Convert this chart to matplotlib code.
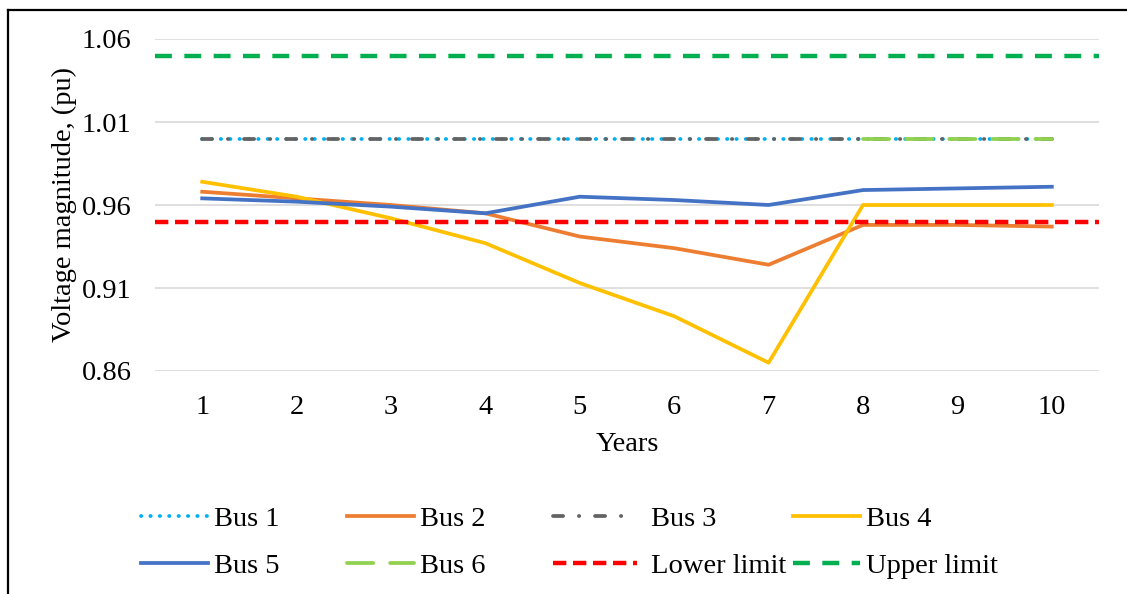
import numpy as np
import matplotlib.pyplot as plt
from matplotlib.lines import Line2D

plt.rcParams['font.family'] = ['Liberation Serif', 'DejaVu Serif']

# data
years = [1, 2, 3, 4, 5, 6, 7, 8, 9, 10]
bus1 = [1.0, 1.0, 1.0, 1.0, 1.0, 1.0, 1.0, 1.0, 1.0, 1.0]
bus2 = [0.968, 0.964, 0.960, 0.955, 0.941, 0.934, 0.924, 0.948, 0.948, 0.947]
bus3 = [1.0, 1.0, 1.0, 1.0, 1.0, 1.0, 1.0, 1.0, 1.0, 1.0]
bus4 = [0.974, 0.965, 0.952, 0.937, 0.913, 0.893, 0.865, 0.960, 0.960, 0.960]
bus5 = [0.964, 0.962, 0.959, 0.955, 0.965, 0.963, 0.960, 0.969, 0.970, 0.971]
bus6 = [np.nan, np.nan, np.nan, np.nan, np.nan, np.nan, np.nan, 1.0, 1.0, 1.0]
lower_limit = 0.95
upper_limit = 1.05
yticks = [0.86, 0.91, 0.96, 1.01, 1.06]

FS = 20.5
fig = plt.figure(figsize=(11.27, 5.94), dpi=100)
ax = fig.add_axes([155 / 1127, 1 - 371 / 594, 944 / 1127, 332 / 594])

lw = 2.7
h1, = ax.plot(years, bus1, color='#00B0F0', lw=lw, linestyle=(0, (0.1, 2.4)),
              dash_capstyle='round', label='Bus 1')
h2, = ax.plot(years, bus2, color='#ED7D31', lw=lw, label='Bus 2')
h3, = ax.plot(years, bus3, color='#636363', lw=lw, linestyle=(0, (2.7, 4.2, 0.1, 4.2)),
              dash_capstyle='round', label='Bus 3')
h4, = ax.plot(years, bus4, color='#FFC000', lw=lw, label='Bus 4')
h5, = ax.plot(years, bus5, color='#4472C4', lw=lw, label='Bus 5')
h6, = ax.plot(years, bus6, color='#92D050', lw=lw, linestyle=(0, (7.0, 4.5)),
              dash_capstyle='round', label='Bus 6')
hl = ax.axhline(lower_limit, color='#FF0000', lw=3.2, linestyle=(0, (3.0, 1.5)), label='Lower limit')
hu = ax.axhline(upper_limit, color='#00B050', lw=3.2, linestyle=(0, (3.8, 2.8)), label='Upper limit')

ax.set_xlim(0.5, 10.5)
ax.set_ylim(0.86, 1.06)
ax.set_xticks(years)
ax.set_yticks(yticks)
ax.set_yticklabels(['%.2f' % v for v in yticks])
ax.tick_params(axis='both', length=0, labelsize=FS)
ax.tick_params(axis='y', pad=17)
ax.tick_params(axis='x', pad=17)
ax.grid(axis='y', color='#D9D9D9', lw=1.2)
ax.set_axisbelow(True)
for s in ax.spines.values():
    s.set_visible(False)

ax.set_xlabel('Years', fontsize=FS, labelpad=9)
ax.set_ylabel('Voltage magnitude, (pu)', fontsize=FS, labelpad=3)

# legend, one column at a time to follow the original spacing
columns = [[h1, h5], [h2, h6], [h3, hl], [h4, hu]]
col_x = [141, 347, 553, 793]
handle_len = [2.35, 2.35, 2.95, 2.35]
text_pad = [0.2, 0.2, 0.5, 0.2]
for handles, x0, hlen, tpad in zip(columns, col_x, handle_len, text_pad):
    leg = fig.legend(handles=handles, loc='upper left',
                     bbox_to_anchor=(x0 / 1127, 1 - 506 / 594),
                     frameon=False, fontsize=FS, handlelength=hlen,
                     handletextpad=tpad, labelspacing=0.75, borderpad=0, borderaxespad=0)

# outer chart border (only top and left show in the crop)
fig.add_artist(Line2D([8.3 / 1127, 8.3 / 1127], [0, 1 - 9.5 / 594], color='black', lw=1.6,
                      transform=fig.transFigure))
fig.add_artist(Line2D([8.3 / 1127, 1], [1 - 9.5 / 594, 1 - 9.5 / 594], color='black', lw=1.6,
                      transform=fig.transFigure))

fig.savefig('out.png', dpi=100)
